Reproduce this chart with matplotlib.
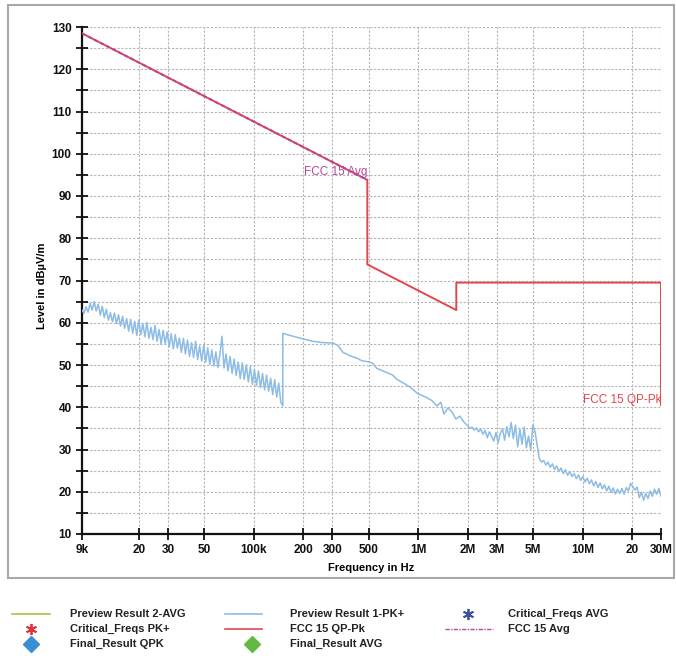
import numpy as np
import matplotlib
matplotlib.use("Agg")
import matplotlib.pyplot as plt
from matplotlib.lines import Line2D
from matplotlib.patches import Rectangle

plt.rcParams['font.family'] = ['Liberation Sans', 'DejaVu Sans']

# Preview Result 1-PK+ (sweep 9k..150k, noisy)
f_seg1 = np.geomspace(9e3, 150e3, 100)
lvl_seg1 = [63.0, 62.2, 63.8, 62.5, 64.6, 63.0, 65.0, 62.8, 64.4, 61.8,
            63.9, 61.2, 63.2, 60.6, 62.4, 60.2, 62.3, 59.8, 61.9, 59.2,
            61.5, 58.7, 61.0, 58.0, 60.8, 57.5, 60.3, 57.0, 60.6, 57.2,
            59.8, 56.7, 60.1, 56.3, 58.9, 56.0, 59.4, 55.6, 58.4, 55.0,
            58.2, 55.1, 57.8, 54.3, 57.4, 53.8, 57.2, 54.0, 56.4, 53.0,
            56.3, 52.6, 55.9, 52.0, 55.3, 51.8, 55.6, 51.3, 54.5, 50.9,
            54.6, 50.7, 54.1, 50.1, 53.6, 49.8, 53.1, 49.4, 52.6, 56.8,
            49.3, 52.6, 48.6, 52.0, 48.0, 51.4, 47.5, 50.7, 46.8, 50.5,
            46.6, 50.0, 46.0, 49.6, 45.4, 49.0, 45.1, 48.6, 44.6, 48.0,
            44.1, 47.6, 43.8, 46.9, 43.0, 46.5, 42.4, 45.7, 41.2, 40.3]

# 150k..2M, smoother part
f_seg2 = [150e3, 173e3, 199e3, 229e3, 263e3, 303e3, 325e3, 348e3, 384e3, 424e3,
          454e3, 508e3, 529e3, 560e3, 601e3, 644e3, 701e3, 742e3, 807e3, 890e3,
          995e3, 1097e3, 1210e3, 1299e3, 1373e3, 1433e3, 1515e3, 1604e3, 1696e3,
          1792e3, 1897e3]
lvl_seg2 = [57.5, 56.8, 56.2, 55.6, 55.3, 55.2, 54.6, 53.0, 52.2, 51.6,
            51.0, 50.7, 50.4, 49.2, 48.7, 48.2, 47.6, 46.6, 45.8, 44.8,
            43.2, 42.5, 41.6, 40.3, 41.2, 38.4, 39.8, 38.9, 37.2,
            37.9, 36.5]

# 2M..30M, noisy
f_seg3 = np.geomspace(2e6, 30e6, 90)
lvl_seg3 = [35.6, 35.0, 35.3, 34.6, 35.1, 34.2, 34.8, 33.6, 34.5, 32.8,
            34.2, 33.1, 32.0, 34.0, 31.6, 33.8, 34.9, 32.2, 35.4, 33.0,
            36.4, 32.6, 35.8, 30.6, 34.8, 31.2, 35.3, 30.4, 33.2, 30.0,
            35.8, 34.2, 31.0, 27.8, 27.0, 27.4, 26.3, 27.0, 25.8, 26.6,
            25.3, 26.1, 24.8, 25.6, 24.3, 25.2, 23.9, 24.8, 23.6, 24.3,
            23.1, 24.0, 22.7, 23.6, 22.3, 23.2, 21.9, 22.8, 21.4, 22.4,
            21.0, 22.1, 20.7, 21.6, 20.2, 21.3, 19.8, 20.9, 19.5, 20.6,
            19.6, 20.8, 19.4, 21.0, 20.2, 22.0, 21.2, 20.4, 21.1, 18.6,
            19.9, 18.0, 19.6, 18.4, 20.2, 18.9, 20.6, 19.4, 20.8, 19.0]

# limit lines
qp_f = [9e3, 490e3, 490e3, 1.705e6, 1.705e6, 30e6, 30e6]
qp_lvl = [128.5, 93.8, 73.8, 63.0, 69.5, 69.5, 40.5]
avg_f = [9e3, 490e3]
avg_lvl = [128.5, 93.8]

xtick_f = [9e3, 20e3, 30e3, 50e3, 100e3, 200e3, 300e3, 500e3,
           1e6, 2e6, 3e6, 5e6, 10e6, 20e6, 30e6]
xtick_lab = ["9k", "20", "30", "50", "100k", "200", "300", "500",
             "1M", "2M", "3M", "5M", "10M", "20", "30M"]

c_blue = "#8dbce4"
c_red = "#e2474f"
c_mag = "#b8449c"

fig = plt.figure(figsize=(6.76, 6.56), dpi=100)
ax = fig.add_axes([82/676, 1-534/656, 579/676, 507/656])

trace_f = np.concatenate([f_seg1, f_seg2, f_seg3])
trace_l = np.concatenate([lvl_seg1, lvl_seg2, lvl_seg3])
ax.plot(trace_f, trace_l, color=c_blue, lw=1.1, zorder=3)
ax.plot(qp_f, qp_lvl, color=c_red, lw=1.4, zorder=4)
ax.plot(avg_f, avg_lvl, color=c_mag, lw=1.4, dashes=(2, 1.5), zorder=5)

ax.text(490e3, 95.6, "FCC 15 Avg", color=c_mag, fontsize=8.5, ha='right', va='center', zorder=6)
ax.text(30e6, 41.7, "FCC 15 QP-Pk", color=c_red, fontsize=8.5, ha='right', va='center', zorder=6)

ax.set_xscale('log')
ax.set_xlim(9e3, 30e6)
ax.set_ylim(10, 130)
ax.set_xticks(xtick_f)
ax.set_xticklabels(xtick_lab)
ax.xaxis.set_minor_locator(matplotlib.ticker.NullLocator())
ax.set_yticks(np.arange(10, 131, 10))
ax.set_yticks(np.arange(15, 130, 10), minor=True)
ax.tick_params(axis='both', which='both', direction='inout', length=9, width=1.3,
               labelsize=8.5, pad=3, colors='#111111')
for lab in ax.get_xticklabels() + ax.get_yticklabels():
    lab.set_fontweight('bold')

for y in np.arange(15, 131, 5):
    ax.axhline(y, color='#b4b4b4', lw=0.8, dashes=(2, 1.5), zorder=1)
for x in xtick_f[1:]:
    ax.axvline(x, color='#b4b4b4', lw=0.8, dashes=(2, 1.5), zorder=1)

for s in ['top', 'right']:
    ax.spines[s].set_visible(False)
for s in ['left', 'bottom']:
    ax.spines[s].set_linewidth(1.6)
    ax.spines[s].set_color('#111111')

ax.set_xlabel("Frequency in Hz", fontsize=8, fontweight='bold')
ax.set_ylabel("Level in dBµV/m", fontsize=8, fontweight='bold')
ax.xaxis.set_label_coords(0.5, -0.058)
ax.yaxis.set_label_coords(-0.060, 0.49)

# outer frame
fig.add_artist(Rectangle((8/676, 1-578/656), 666/676, 573/656, transform=fig.transFigure,
                         fill=False, edgecolor='#a8a8a8', lw=1.5))

# legend drawn by hand
def fx(px):
    return px/676

def fy(py):
    return 1-py/656

leg = [
    (12, 50, 614, 'line', "#a3c24a", "Preview Result 2-AVG", 70),
    (225, 262, 614, 'line', c_blue, "Preview Result 1-PK+", 290),
    (468, 468, 614, 'ast', "#3a52a0", "Critical_Freqs AVG", 508),
    (31, 31, 629, 'ast', "#e0303c", "Critical_Freqs PK+", 70),
    (225, 262, 629, 'line', c_red, "FCC 15 QP-Pk", 290),
    (445, 493, 629, 'dash', c_mag, "FCC 15 Avg", 508),
    (31, 31, 644, 'dia', "#3a8fd3", "Final_Result QPK", 70),
    (252, 252, 644, 'dia', "#62b944", "Final_Result AVG", 290),
]
for x0, x1, py, kind, col, txt, tx in leg:
    if kind == 'line':
        fig.add_artist(Line2D([fx(x0), fx(x1)], [fy(py), fy(py)], color=col, lw=1.2))
    elif kind == 'dash':
        fig.add_artist(Line2D([fx(x0), fx(x1)], [fy(py), fy(py)], color=col, lw=1.0,
                              dashes=(3, 1, 1, 1)))
    elif kind == 'ast':
        fig.add_artist(Line2D([fx(x0)], [fy(py)], color=col, marker=(6, 2, 0),
                              markersize=8, mew=1.3, ls='none'))
    else:
        fig.add_artist(Line2D([fx(x0)], [fy(py)], color=col, marker='D',
                              markersize=8, ls='none'))
    fig.text(fx(tx), fy(py), txt, fontsize=8, fontweight='bold', color='#222222',
             va='center', ha='left')

fig.savefig("out.png", dpi=100)
